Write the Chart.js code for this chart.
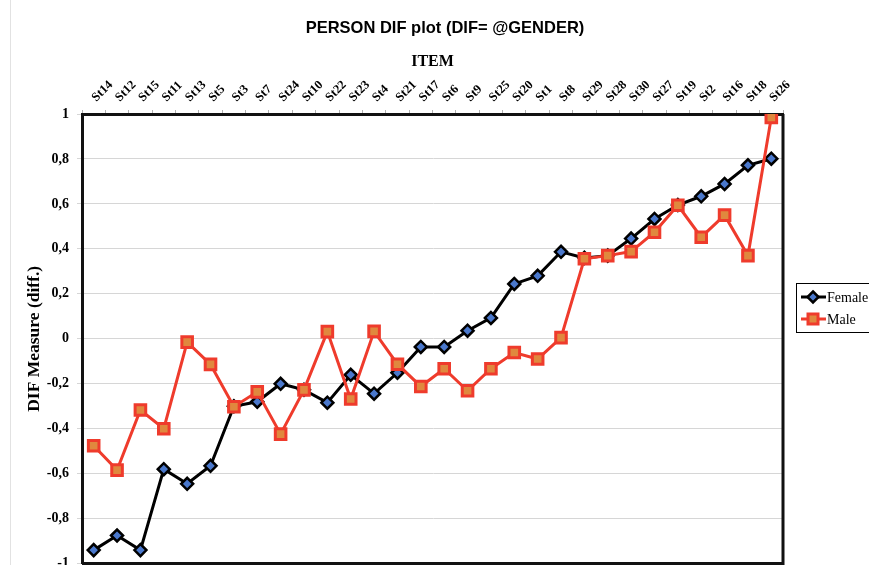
<!DOCTYPE html>
<html>
<head>
<meta charset="utf-8">
<script src="https://cdn.jsdelivr.net/npm/chart.js@4.4.0/dist/chart.umd.min.js"></script>
<style>
html, body { margin: 0; padding: 0; background: #fff; overflow: hidden; }
#wrap { width: 869px; height: 565px; overflow: hidden; }
</style>
</head>
<body>
<div id="wrap"><canvas id="difChart" width="869" height="580"></canvas></div>
<script>
const chartTitle = 'PERSON DIF plot (DIF= @GENDER)';
const items = ['St14', 'St12', 'St15', 'St11', 'St13', 'St5', 'St3', 'St7', 'St24', 'St10',
               'St22', 'St23', 'St4', 'St21', 'St17', 'St6', 'St9', 'St25', 'St20', 'St1',
               'St8', 'St29', 'St28', 'St30', 'St27', 'St19', 'St2', 'St16', 'St18', 'St26'];
const female = [-0.94, -0.875, -0.94, -0.58, -0.645, -0.565, -0.30, -0.28, -0.20, -0.227,
                -0.284, -0.16, -0.244, -0.151, -0.036, -0.036, 0.036, 0.093, 0.244, 0.28,
                0.387, 0.36, 0.37, 0.446, 0.533, 0.595, 0.634, 0.689, 0.772, 0.801];
const male = [-0.476, -0.584, -0.317, -0.40, -0.015, -0.114, -0.302, -0.236, -0.424, -0.227,
              0.032, -0.268, 0.033, -0.113, -0.212, -0.133, -0.231, -0.133, -0.061, -0.09,
              0.005, 0.356, 0.37, 0.388, 0.474, 0.594, 0.452, 0.55, 0.37, 0.985];
const yTickValues = [-1, -0.8, -0.6, -0.4, -0.2, 0, 0.2, 0.4, 0.6, 0.8, 1];
const yTickLabels = ['-1', '-0,8', '-0,6', '-0,4', '-0,2', '0', '0,2', '0,4', '0,6', '0,8', '1'];

const serif = '"Liberation Serif", "Times New Roman", serif';
const femaleFill = '#4a78cc';
const maleLine = '#ef3b2c';
const maleFill = '#e0883e';

// faint page edge, frame on right/bottom, title and the boxed legend
const extras = {
    id: 'extras',
    beforeDraw(chart) {
        const ctx = chart.ctx;
        ctx.save();
        ctx.strokeStyle = '#e2e2e2';
        ctx.lineWidth = 1;
        ctx.beginPath();
        ctx.moveTo(10.5, 0);
        ctx.lineTo(10.5, chart.height);
        ctx.stroke();
        ctx.restore();
    },
    afterDraw(chart) {
        const ctx = chart.ctx;
        const a = chart.chartArea;
        ctx.save();
        ctx.strokeStyle = '#111';
        ctx.lineWidth = 3;
        ctx.beginPath();
        ctx.moveTo(a.right, a.top);
        ctx.lineTo(a.right, a.bottom);
        ctx.lineTo(a.left, a.bottom);
        ctx.stroke();

        ctx.fillStyle = '#000';
        ctx.font = 'bold 16.5px "Liberation Sans", Arial, sans-serif';
        ctx.textAlign = 'center';
        ctx.textBaseline = 'middle';
        ctx.fillText(chartTitle, 445, 28);

        // legend box
        ctx.lineWidth = 1;
        ctx.strokeStyle = '#000';
        ctx.strokeRect(796.5, 283.5, 90, 49);
        const rows = [
            {label: 'Female', y: 297, line: '#000', fill: femaleFill, border: '#000', shape: 'diamond'},
            {label: 'Male', y: 319, line: maleLine, fill: maleFill, border: maleLine, shape: 'square'}
        ];
        rows.forEach(r => {
            ctx.strokeStyle = r.line;
            ctx.lineWidth = 3;
            ctx.beginPath();
            ctx.moveTo(801, r.y);
            ctx.lineTo(826, r.y);
            ctx.stroke();
            ctx.beginPath();
            if (r.shape === 'diamond') {
                ctx.moveTo(813, r.y - 5.5);
                ctx.lineTo(818.5, r.y);
                ctx.lineTo(813, r.y + 5.5);
                ctx.lineTo(807.5, r.y);
                ctx.closePath();
                ctx.lineWidth = 2.5;
            } else {
                ctx.rect(808, r.y - 5, 10, 10);
                ctx.lineWidth = 3;
            }
            ctx.fillStyle = r.fill;
            ctx.fill();
            ctx.strokeStyle = r.border;
            ctx.stroke();
            ctx.fillStyle = '#000';
            ctx.font = '14px ' + serif;
            ctx.textAlign = 'left';
            ctx.fillText(r.label, 827, r.y + 1);
        });
        ctx.restore();
    }
};

const ctx = document.getElementById('difChart').getContext('2d');
const difChart = new Chart(ctx, {
    type: 'line',
    data: {
        labels: items,
        datasets: [{
            label: 'Female',
            data: female,
            order: 2,
            borderColor: '#000',
            borderWidth: 3,
            pointStyle: 'rectRot',
            pointRadius: 6,
            pointBorderWidth: 2.5,
            pointBackgroundColor: femaleFill,
            pointBorderColor: '#000',
            tension: 0
        }, {
            label: 'Male',
            data: male,
            order: 1,
            borderColor: maleLine,
            borderWidth: 3,
            pointStyle: 'rect',
            pointRadius: 7.5,
            pointBorderWidth: 3,
            pointBackgroundColor: maleFill,
            pointBorderColor: maleLine,
            tension: 0
        }]
    },
    options: {
        responsive: false,
        animation: false,
        layout: {
            padding: {left: 0, right: 86, top: 49, bottom: 12}
        },
        plugins: {
            legend: {display: false},
            title: {display: false},
            tooltip: {enabled: false}
        },
        scales: {
            x: {
                position: 'top',
                offset: true,
                afterFit: s => { s.height = 65; },
                title: {
                    display: true,
                    text: 'ITEM',
                    color: '#000',
                    font: {family: serif, size: 16, weight: 'bold'},
                    padding: {top: 3, bottom: 0}
                },
                grid: {
                    display: true,
                    offset: true,
                    drawOnChartArea: false,
                    tickLength: 4,
                    color: '#b0b0b0'
                },
                border: {display: true, color: '#111', width: 3},
                ticks: {
                    color: '#000',
                    minRotation: 45,
                    maxRotation: 45,
                    autoSkip: false,
                    padding: 5,
                    labelOffset: 11,
                    font: {family: serif, size: 12.5, weight: 'bold'}
                }
            },
            y: {
                min: -1,
                max: 1,
                afterFit: s => { s.width = 82; },
                afterBuildTicks: s => { s.ticks = yTickValues.map(v => ({value: v})); },
                title: {
                    display: true,
                    text: 'DIF Measure (diff.)',
                    color: '#000',
                    font: {family: serif, size: 17.5, weight: 'bold'},
                    padding: {top: 24, bottom: 0}
                },
                grid: {
                    color: '#d6d6d6',
                    lineWidth: 1,
                    tickLength: 5
                },
                border: {display: true, color: '#111', width: 3},
                ticks: {
                    color: '#000',
                    padding: 8,
                    font: {family: serif, size: 14, weight: 'bold'},
                    callback: v => {
                        const i = yTickValues.findIndex(t => Math.abs(t - v) < 1e-6);
                        return i >= 0 ? yTickLabels[i] : '';
                    }
                }
            }
        }
    },
    plugins: [extras]
});
</script>
</body>
</html>
